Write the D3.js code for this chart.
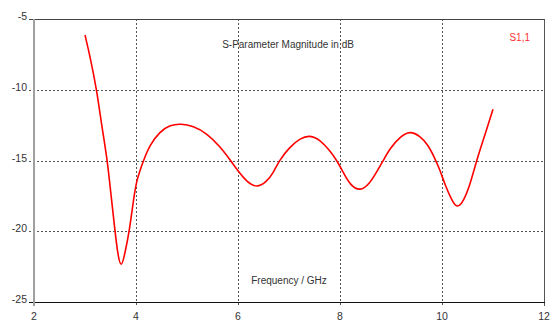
<html lang="en">
<head>
  <meta charset="UTF-8" />
  <title>S-Parameter Magnitude in dB</title>
  <style>
    body { margin: 0; background: #fff; }
    svg { display: block; }
    text { font-family: "Liberation Sans", Arial, sans-serif; font-size: 10.5px; fill: #333; }
    .label { font-size: 10px; }
    .grid line { stroke: #555; stroke-width: 1px; stroke-dasharray: 2,2; shape-rendering: crispEdges; }
    .curve { fill: none; stroke: #ff0000; stroke-width: 1.6px; }
  </style>
</head>
<body>
  <svg width="554" height="322"></svg>

  <script src="https://d3js.org/d3.v7.min.js"></script>
  <script>
    // S1,1 magnitude (dB)
    const freq = [3.00, 3.10, 3.23, 3.33, 3.44, 3.52, 3.59, 3.64, 3.71, 3.78, 3.87, 3.95, 4.01, 4.14,
      4.27, 4.47, 4.67, 4.88, 5.12, 5.39, 5.65, 5.86, 6.01, 6.17, 6.37, 6.56, 6.69, 6.80, 7.02,
      7.22, 7.41, 7.61, 7.80, 7.95, 8.07, 8.20, 8.39, 8.59, 8.72, 8.84, 8.98, 9.18, 9.37, 9.57,
      9.73, 9.86, 9.96, 10.06, 10.19, 10.30, 10.42, 10.55, 10.68, 10.85, 11.00];
    const s11 = [-6.13, -7.66, -10.0, -12.6, -15.0, -17.8, -20.0, -21.6, -22.7, -21.6, -20.0, -17.8, -16.4, -15.05,
      -13.9, -12.95, -12.49, -12.40, -12.56, -13.08, -14.02, -15.03, -15.79, -16.5, -16.95, -16.5, -15.9, -15.03, -14.02,
      -13.43, -13.2, -13.55, -14.3, -15.06, -15.9, -16.73, -17.2, -16.6, -15.8, -15.06, -14.14, -13.32, -12.9, -13.27,
      -13.9, -14.85, -15.67, -16.73, -17.8, -18.4, -17.9, -16.73, -14.96, -13.1, -11.38];

    const xTicks = [2, 4, 6, 8, 10, 12];
    const yTicks = [-5, -10, -15, -20, -25];
    const title = "S-Parameter Magnitude in dB";
    const xLabel = "Frequency / GHz";
    const seriesName = "S1,1";

    const svg = d3.select("svg");
    const m = { left: 34, right: 544, top: 19, bottom: 302 };

    const x = d3.scaleLinear().domain([2, 12]).range([m.left, m.right]);
    const y = d3.scaleLinear().domain([-25, -5]).range([m.bottom, m.top]);

    // dotted grid
    const grid = svg.append("g").attr("class", "grid");
    grid.selectAll("line.v")
      .data(xTicks.filter(d => d > 2 && d < 12))
      .join("line")
      .attr("class", "v")
      .attr("x1", d => Math.round(x(d)) + 0.5).attr("x2", d => Math.round(x(d)) + 0.5)
      .attr("y1", m.top).attr("y2", m.bottom + 4);
    grid.selectAll("line.h")
      .data(yTicks.filter(d => d > -25 && d < -5))
      .join("line")
      .attr("class", "h")
      .attr("x1", m.left - 5).attr("x2", m.right)
      .attr("y1", d => Math.round(y(d)) + 0.5).attr("y2", d => Math.round(y(d)) + 0.5);

    // frame
    svg.append("line")
      .attr("x1", m.left - 5).attr("x2", m.right + 0.5)
      .attr("y1", m.top + 0.5).attr("y2", m.top + 0.5)
      .attr("stroke", "#444").attr("shape-rendering", "crispEdges");
    svg.append("line")
      .attr("x1", m.right + 0.5).attr("x2", m.right + 0.5)
      .attr("y1", m.top).attr("y2", m.bottom + 4)
      .attr("stroke", "#555").attr("shape-rendering", "crispEdges");
    svg.append("line")
      .attr("x1", m.left - 5).attr("x2", m.right + 0.5)
      .attr("y1", m.bottom + 0.5).attr("y2", m.bottom + 0.5)
      .attr("stroke", "#111").attr("shape-rendering", "crispEdges");
    svg.append("line")
      .attr("x1", m.left).attr("x2", m.left)
      .attr("y1", m.top).attr("y2", m.bottom + 4)
      .attr("stroke", "#a0a0a0").attr("stroke-width", 2).attr("shape-rendering", "crispEdges");

    // tick labels
    svg.append("g").selectAll("text")
      .data(yTicks)
      .join("text")
      .attr("x", m.left - 7)
      .attr("y", d => y(d) + 1)
      .attr("text-anchor", "end")
      .text(d => d);
    svg.append("g").selectAll("text")
      .data(xTicks)
      .join("text")
      .attr("x", d => x(d))
      .attr("y", m.bottom + 18)
      .attr("text-anchor", "middle")
      .text(d => d);

    // curve (B-spline smooths the hand-read points)
    const data = freq.map((f, i) => ({ f, v: s11[i] }));
    svg.append("path")
      .datum(data)
      .attr("class", "curve")
      .attr("d", d3.line().x(d => x(d.f)).y(d => y(d.v)).curve(d3.curveBasis));

    // titles
    svg.append("text").attr("class", "label").attr("x", 288).attr("y", 48).attr("text-anchor", "middle").text(title);
    svg.append("text").attr("class", "label").attr("x", 289).attr("y", 284).attr("text-anchor", "middle").text(xLabel);
    svg.append("text").attr("class", "label").attr("x", 530).attr("y", 41).attr("text-anchor", "end")
      .style("fill", "#ff3333").text(seriesName);
  </script>
</body>
</html>
